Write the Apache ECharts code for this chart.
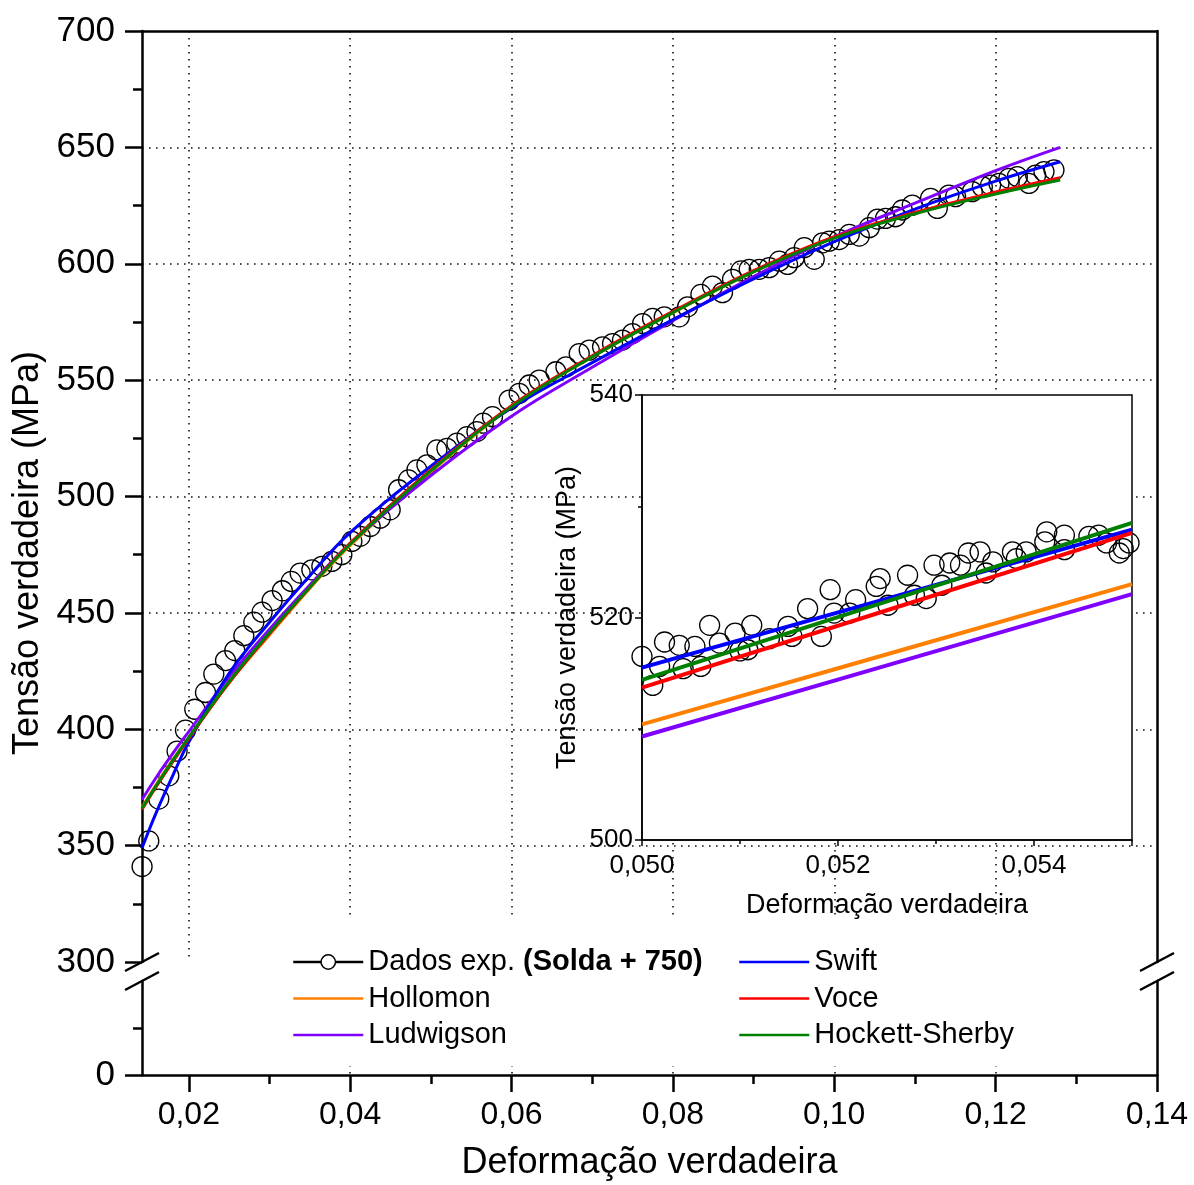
<!DOCTYPE html>
<html>
<head>
<meta charset="utf-8">
<script src="https://cdn.jsdelivr.net/npm/echarts@6/dist/echarts.min.js"></script>
<style>
  html, body { margin: 0; padding: 0; background: #fff; }
  #chart { width: 1194px; height: 1185px; }
</style>
</head>
<body>
<div id="chart"></div>
<script>
// Experimental true strain / true stress (MPa)
const expStrain = [
  0.01421, 0.01504, 0.01628, 0.01752, 0.01855, 0.01959, 0.02074, 0.02207, 0.02310, 0.02455,
  0.02570, 0.02682, 0.02806, 0.02909, 0.03033, 0.03160, 0.03270, 0.03380, 0.03525, 0.03649,
  0.03773, 0.03897, 0.04021, 0.04124, 0.04248, 0.04372, 0.04496, 0.04600, 0.04723, 0.04827,
  0.04951, 0.05075, 0.05199, 0.05323, 0.05447, 0.05571, 0.05650, 0.05764, 0.05971, 0.06095,
  0.06220, 0.06343, 0.06550, 0.06674, 0.06839, 0.06963, 0.07128, 0.07252, 0.07376, 0.07500,
  0.07624, 0.07748, 0.07893, 0.08079, 0.08182, 0.08347, 0.08491, 0.08615, 0.08739, 0.08843,
  0.08946, 0.09070, 0.09194, 0.09318, 0.09421, 0.09504, 0.09628, 0.09752, 0.09855, 0.09938,
  0.10062, 0.10186, 0.10310, 0.10434, 0.10536, 0.10636, 0.10760, 0.10843, 0.10967, 0.11194,
  0.11277, 0.11421, 0.11504, 0.11711, 0.11835, 0.11938, 0.12041, 0.12165, 0.12269, 0.12413,
  0.12496, 0.12599, 0.12723
];
const expStress = [
  341.0, 352.0, 370.0, 380.0, 390.6, 399.6, 408.6, 415.8, 423.7, 429.5,
  433.8, 440.2, 446.0, 450.3, 455.3, 459.5, 463.5, 467.1, 468.5, 470.0,
  472.1, 475.0, 480.7, 482.9, 487.1, 490.7, 494.3, 502.9, 507.1, 511.4,
  513.6, 520.0, 520.7, 522.9, 525.7, 527.9, 531.5, 534.3, 541.4, 544.3,
  547.9, 550.0, 553.6, 555.7, 561.4, 562.9, 564.3, 565.7, 567.2, 570.0,
  574.3, 576.5, 577.2, 577.2, 581.5, 586.8, 590.4, 587.6, 593.3, 596.9,
  597.6, 597.6, 598.3, 601.1, 599.7, 602.6, 606.9, 601.9, 609.0, 609.7,
  610.4, 612.6, 611.9, 615.5, 619.2, 619.5, 620.2, 623.1, 625.2, 628.1,
  623.8, 629.5, 628.8, 631.0, 633.1, 633.8, 634.5, 636.7, 637.4, 634.5,
  638.1, 639.6, 640.3
];

// Fitted hardening models, sampled on a common strain grid
const fitStrain = [0.0142, 0.016, 0.018, 0.02, 0.025, 0.03, 0.035, 0.04, 0.05,
                   0.06, 0.07, 0.08, 0.09, 0.10, 0.11, 0.12, 0.128];
const hollomon = [366.5, 376.5, 386.8, 396.5, 420.0, 440.5, 460.5, 479.0, 510.5,
                  538.5, 560.0, 579.0, 596.5, 611.5, 622.0, 630.5, 636.5];
const ludwigson = [369.8, 379.5, 389.5, 399.0, 422.5, 443.0, 462.0, 479.8, 509.0,
                   534.5, 555.5, 575.5, 594.5, 611.5, 626.0, 640.0, 650.0];
const swift = [349.0, 364.5, 380.0, 394.5, 424.0, 446.0, 466.0, 484.5, 513.0,
               538.0, 557.5, 576.0, 593.5, 609.5, 623.5, 635.5, 643.8];
const voce = [365.5, 375.5, 386.0, 396.0, 420.0, 441.0, 461.0, 480.0, 511.5,
              539.0, 560.5, 579.5, 597.0, 611.5, 622.0, 630.8, 637.0];
const hockettSherby = [366.0, 376.0, 386.5, 396.5, 420.5, 441.5, 461.0, 479.5, 511.0,
                       538.5, 560.0, 579.0, 596.5, 611.0, 621.5, 630.0, 636.0];

// Detail window (inset): experimental points
const zoomStrain = [
  0.05000, 0.05011, 0.05018, 0.05023, 0.05038, 0.05042, 0.05054, 0.05060, 0.05069, 0.05079,
  0.05095, 0.05100, 0.05108, 0.05112, 0.05130, 0.05149, 0.05153, 0.05169, 0.05183, 0.05192,
  0.05196, 0.05212, 0.05218, 0.05239, 0.05243, 0.05251, 0.05271, 0.05278, 0.05290, 0.05298,
  0.05306, 0.05314, 0.05325, 0.05333, 0.05345, 0.05351, 0.05358, 0.05378, 0.05382, 0.05392,
  0.05411, 0.05413, 0.05431, 0.05431, 0.05456, 0.05466, 0.05474, 0.05487, 0.05491, 0.05497
];
const zoomStress = [
  516.5, 513.9, 515.6, 517.8, 517.5, 515.4, 517.4, 515.6, 519.3, 517.7,
  518.6, 517.0, 517.1, 519.3, 518.1, 519.2, 518.3, 520.8, 518.3, 522.5,
  520.4, 520.4, 521.6, 522.8, 523.5, 521.1, 523.8, 522.0, 521.7, 524.7,
  522.9, 524.9, 524.7, 525.8, 525.9, 524.0, 525.0, 525.9, 525.3, 525.9,
  526.8, 527.7, 527.4, 526.1, 527.3, 527.4, 526.7, 525.8, 526.2, 526.7
];
// Detail window: model curves
const zoomFitStrain = [0.050, 0.0525, 0.055];
const zoomHollomon = [510.4, 516.7, 523.0];
const zoomLudwigson = [509.3, 515.7, 522.1];
const zoomSwift = [515.5, 521.7, 527.9];
const zoomVoce = [513.7, 520.65, 527.6];
const zoomHockettSherby = [514.4, 521.45, 528.5];

// Tick labels
const mainXTicks = [0.02, 0.04, 0.06, 0.08, 0.10, 0.12, 0.14];
const mainXMinorTicks = [0.03, 0.05, 0.07, 0.09, 0.11, 0.13];
const insetXTicks = [0.050, 0.052, 0.054];

const pair = (xs, ys) => xs.map((x, i) => [x, ys[i]]);
const comma = (v, d) => v.toFixed(d).replace('.', ',');

const FONT = "'Liberation Sans', Arial, sans-serif";
const BLACK = '#000';
const dotted = { color: '#111', width: 1.6, type: [1.6, 5.4] };
const colors = {
  'Hollomon': '#FF8000',
  'Ludwigson': '#8000FF',
  'Swift': '#0000FF',
  'Voce': '#FF0000',
  'Hockett-Sherby': '#008000'
};

const X_MIN = 0.0142, X_MAX = 0.14;

const chart = echarts.init(document.getElementById('chart'), null, { renderer: 'canvas' });

function fitSeries(name, xs, ys, xi, yi, width, z, smooth) {
  return {
    name, type: 'line', xAxisIndex: xi, yAxisIndex: yi,
    data: pair(xs, ys), symbol: 'none', smooth,
    lineStyle: { color: colors[name], width }, itemStyle: { color: colors[name] },
    z, silent: true
  };
}
function dataSeries(xs, ys, xi, yi, z) {
  return {
    name: 'Dados exp.', type: 'line', xAxisIndex: xi, yAxisIndex: yi,
    data: pair(xs, ys), symbol: 'circle', symbolSize: 20, showAllSymbol: true,
    lineStyle: { width: 0, opacity: 0 },
    itemStyle: { color: 'rgba(0,0,0,0)', borderColor: BLACK, borderWidth: 1.3 },
    z, silent: true
  };
}

const legendText = {
  fontFamily: FONT, fontSize: 29, color: BLACK, lineHeight: 30,
  rich: {
    n: { fontFamily: FONT, fontSize: 29, color: BLACK, lineHeight: 30 },
    b: { fontFamily: FONT, fontSize: 29, color: BLACK, lineHeight: 30, fontWeight: 'bold' }
  }
};
const lineItem = (name) => ({ name, itemStyle: { opacity: 0 }, lineStyle: { color: colors[name], width: 2.5, opacity: 1 } });

const option = {
  animation: false,
  backgroundColor: '#fff',
  textStyle: { fontFamily: FONT },
  grid: [
    // upper segment 300-700
    { left: 142, right: 37, top: 31, bottom: 223 },
    // lower segment 0-...
    { left: 142, right: 37, top: 981, bottom: 110 },
    // detail window
    { left: 642, right: 62, top: 395, bottom: 345, show: true, backgroundColor: '#fff',
      borderColor: BLACK, borderWidth: 1.5, z: 1 },
    // full frame, carries the vertical axis title
    { left: 142, right: 37, top: 31, bottom: 110 }
  ],
  xAxis: [
    { gridIndex: 0, type: 'value', position: 'top', min: X_MIN, max: X_MAX, splitNumber: 6,
      axisLine: { lineStyle: { color: BLACK, width: 2.5 } }, axisTick: { show: false },
      axisLabel: { show: false },
      splitLine: { show: true, showMinLine: false, showMaxLine: false, lineStyle: dotted } },
    { gridIndex: 1, type: 'value', position: 'bottom', min: X_MIN, max: X_MAX, splitNumber: 6,
      axisLine: { onZero: false, lineStyle: { color: BLACK, width: 2.5 } },
      axisTick: { show: true, inside: false, length: 17, customValues: mainXTicks,
                  lineStyle: { color: BLACK, width: 2.5 } },
      axisLabel: { show: true, customValues: mainXTicks, margin: 24, fontSize: 32,
                   fontFamily: FONT, color: BLACK, formatter: v => comma(v, 2) },
      splitLine: { show: true, showMinLine: false, showMaxLine: false, lineStyle: dotted },
      name: 'Deformação verdadeira', nameLocation: 'middle', nameGap: 70,
      nameTextStyle: { fontFamily: FONT, fontSize: 36, color: BLACK } },
    { gridIndex: 1, type: 'value', position: 'bottom', min: X_MIN, max: X_MAX, splitNumber: 6,
      axisLine: { show: false },
      axisTick: { show: true, inside: false, length: 9, customValues: mainXMinorTicks,
                  lineStyle: { color: BLACK, width: 2.5 } },
      axisLabel: { show: false }, splitLine: { show: false } },
    { gridIndex: 2, type: 'value', min: 0.050, max: 0.055, interval: 0.002, z: 2,
      axisLine: { onZero: false, lineStyle: { color: BLACK, width: 1.5 } },
      axisTick: { show: true, inside: false, length: 6, lineStyle: { color: BLACK, width: 1.5 } },
      minorTick: { show: true, splitNumber: 2, length: 4, lineStyle: { color: BLACK, width: 1.5 } },
      axisLabel: { customValues: insetXTicks, fontSize: 26, fontFamily: FONT, color: BLACK,
                   margin: 13, formatter: v => comma(v, 3) },
      splitLine: { show: false },
      name: 'Deformação verdadeira', nameLocation: 'middle', nameGap: 52,
      nameTextStyle: { fontFamily: FONT, fontSize: 27, color: BLACK } },
    { gridIndex: 3, type: 'value', min: 0, max: 1, show: false }
  ],
  yAxis: [
    { gridIndex: 0, type: 'value', min: 300, max: 700, interval: 50,
      axisLine: { onZero: false, lineStyle: { color: BLACK, width: 2.5 } },
      axisTick: { show: true, inside: false, length: 17, lineStyle: { color: BLACK, width: 2.5 } },
      minorTick: { show: true, splitNumber: 2, length: 9, lineStyle: { color: BLACK, width: 2.5 } },
      axisLabel: { fontSize: 35, fontFamily: FONT, color: BLACK, margin: 27 },
      splitLine: { show: true, showMinLine: false, showMaxLine: false, lineStyle: dotted } },
    { gridIndex: 0, type: 'value', position: 'right', min: 300, max: 700, interval: 50,
      axisLine: { onZero: false, lineStyle: { color: BLACK, width: 2.5 } },
      axisTick: { show: false }, axisLabel: { show: false }, splitLine: { show: false } },
    { gridIndex: 1, type: 'value', min: 0, max: 100, interval: 100,
      axisLine: { onZero: false, lineStyle: { color: BLACK, width: 2.5 } },
      axisTick: { show: true, inside: false, length: 17, customValues: [0],
                  lineStyle: { color: BLACK, width: 2.5 } },
      minorTick: { show: true, splitNumber: 2, length: 9, lineStyle: { color: BLACK, width: 2.5 } },
      axisLabel: { customValues: [0], fontSize: 35, fontFamily: FONT, color: BLACK, margin: 27 },
      splitLine: { show: false } },
    { gridIndex: 1, type: 'value', position: 'right', min: 0, max: 100, interval: 100,
      axisLine: { onZero: false, lineStyle: { color: BLACK, width: 2.5 } },
      axisTick: { show: false }, axisLabel: { show: false }, splitLine: { show: false } },
    { gridIndex: 2, type: 'value', min: 500, max: 540, interval: 20, z: 2,
      axisLine: { onZero: false, lineStyle: { color: BLACK, width: 1.5 } },
      axisTick: { show: true, inside: false, length: 7, lineStyle: { color: BLACK, width: 1.5 } },
      minorTick: { show: true, splitNumber: 2, length: 4, lineStyle: { color: BLACK, width: 1.5 } },
      axisLabel: { fontSize: 26, fontFamily: FONT, color: BLACK, margin: 9 },
      splitLine: { show: false },
      name: 'Tensão verdadeira (MPa)', nameLocation: 'middle', nameGap: 61,
      nameTextStyle: { fontFamily: FONT, fontSize: 27, color: BLACK } },
    { gridIndex: 3, type: 'value', min: 0, max: 1,
      axisLine: { show: false }, axisTick: { show: false }, axisLabel: { show: false },
      splitLine: { show: false },
      name: 'Tensão verdadeira (MPa)', nameLocation: 'middle', nameGap: 96,
      nameTextStyle: { fontFamily: FONT, fontSize: 36, color: BLACK } }
  ],
  legend: [
    { left: 282, top: 920, orient: 'vertical', padding: [27, 10, 16, 10],
      backgroundColor: '#fff', itemWidth: 70, itemHeight: 18, itemGap: 6.5,
      textStyle: legendText, selectedMode: false,
      itemStyle: { opacity: 0 },
      formatter: n => n === 'Dados exp.' ? '{n|Dados exp. }{b|(Solda + 750)}' : n,
      data: [
        { name: 'Dados exp.', itemStyle: { opacity: 1, color: '#fff', borderColor: BLACK, borderWidth: 1.5 },
          lineStyle: { color: BLACK, width: 2.5, opacity: 1 } },
        lineItem('Hollomon'), lineItem('Ludwigson')
      ] },
    { left: 728, top: 920, orient: 'vertical', padding: [27, 10, 16, 10],
      backgroundColor: '#fff', itemWidth: 70, itemHeight: 18, itemGap: 6.5,
      textStyle: legendText, selectedMode: false,
      itemStyle: { opacity: 0 },
      data: [lineItem('Swift'), lineItem('Voce'), lineItem('Hockett-Sherby')] }
  ],
  series: [
    dataSeries(expStrain, expStress, 0, 0, 2),
    fitSeries('Hollomon', fitStrain, hollomon, 0, 0, 3, 3, 0.4),
    fitSeries('Ludwigson', fitStrain, ludwigson, 0, 0, 3, 3, 0.4),
    fitSeries('Swift', fitStrain, swift, 0, 0, 3, 3, 0.4),
    fitSeries('Voce', fitStrain, voce, 0, 0, 3, 3, 0.4),
    fitSeries('Hockett-Sherby', fitStrain, hockettSherby, 0, 0, 3, 3, 0.4),
    dataSeries(zoomStrain, zoomStress, 3, 4, 3),
    fitSeries('Hollomon', zoomFitStrain, zoomHollomon, 3, 4, 4, 4, false),
    fitSeries('Ludwigson', zoomFitStrain, zoomLudwigson, 3, 4, 4, 4, false),
    fitSeries('Swift', zoomFitStrain, zoomSwift, 3, 4, 4, 4, false),
    fitSeries('Voce', zoomFitStrain, zoomVoce, 3, 4, 4, 4, false),
    fitSeries('Hockett-Sherby', zoomFitStrain, zoomHockettSherby, 3, 4, 4, 4, false)
  ]
};

chart.setOption(option);

// Axis-break marks: two parallel slashes on both vertical axes between the segments
function breakMarks() {
  const xl = chart.convertToPixel({ xAxisIndex: 0 }, X_MIN);
  const xr = chart.convertToPixel({ xAxisIndex: 0 }, X_MAX);
  const yTop = chart.convertToPixel({ yAxisIndex: 0 }, 300);
  const yBot = chart.convertToPixel({ yAxisIndex: 2 }, 100);
  const els = [];
  [xl, xr].forEach(x => {
    [yTop, yBot].forEach(y => {
      els.push({
        type: 'line', silent: true, z: 10,
        shape: { x1: x - 17, y1: y + 9, x2: x + 17, y2: y - 9 },
        style: { stroke: BLACK, lineWidth: 2.5 }
      });
    });
  });
  return els;
}
chart.setOption({ graphic: breakMarks() });
</script>
</body>
</html>
